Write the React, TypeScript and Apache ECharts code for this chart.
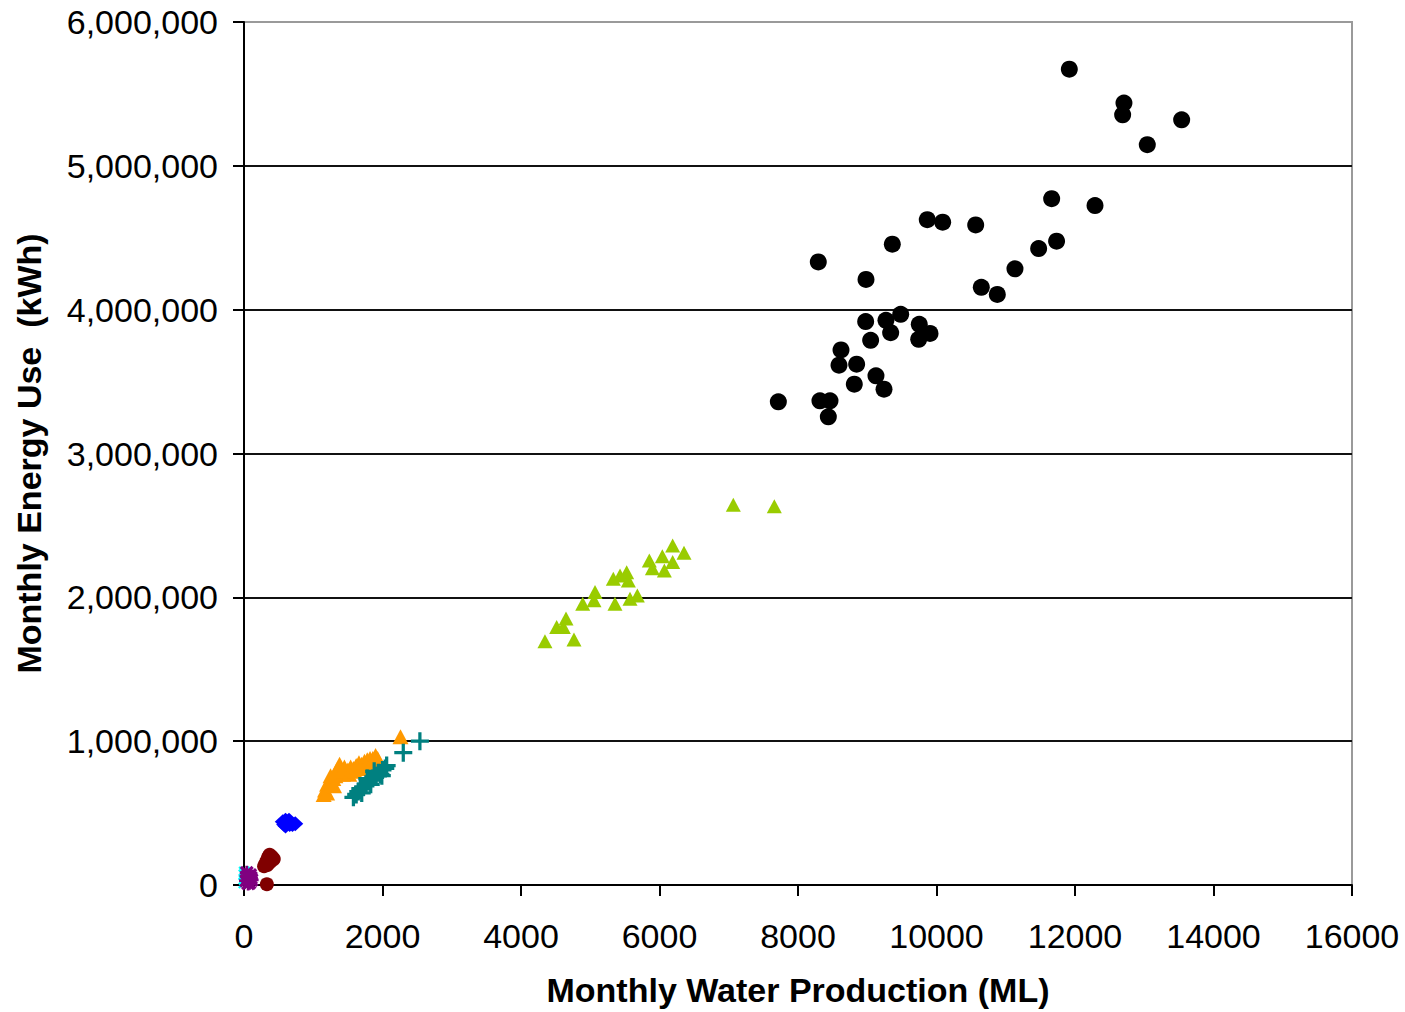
import React, { useEffect, useRef } from "react";
import * as echarts from "echarts";

// Large plants (black circles)
const blackX = [11918, 12707, 12688, 13540, 13044, 11663, 12289, 9867, 10089, 10566, 9362, 8293, 11734, 11475, 11133, 8982, 10647, 10878, 9483, 8977, 9270, 9751, 9338, 9906, 9743, 9049, 8621, 8847, 8592, 9126, 8813, 9242, 7716, 8317, 8462, 8438];
const blackY = [5672000, 5436000, 5355000, 5320000, 5147000, 4772000, 4724000, 4626000, 4608000, 4589000, 4455000, 4332000, 4476000, 4425000, 4284000, 4210000, 4155000, 4106000, 3968000, 3917000, 3926000, 3898000, 3840000, 3835000, 3794000, 3787000, 3720000, 3621000, 3614000, 3540000, 3482000, 3447000, 3359000, 3366000, 3366000, 3255000];

// Green triangles
const greenX = [7066, 7658, 6190, 6354, 6041, 5853, 6190, 5897, 6070, 5526, 5430, 5333, 5550, 5069, 5680, 5574, 4891, 5357, 5054, 4650, 4515, 4611, 4346, 4765];
const greenY = [2643000, 2634000, 2360000, 2310000, 2286000, 2256000, 2245000, 2203000, 2187000, 2175000, 2152000, 2129000, 2117000, 2037000, 2013000, 1991000, 1956000, 1956000, 1979000, 1852000, 1794000, 1794000, 1694000, 1706000];

// Orange triangles
const orangeX = [1150, 1170, 1200, 1230, 1260, 1290, 1320, 1350, 1380, 1400, 1430, 1460, 1500, 1540, 1580, 1620, 1660, 1700, 1740, 1780, 1820, 1860, 1900, 1930, 1200, 1250, 1300, 1340, 1450, 1520, 1600, 1680, 1760, 1850, 2260];
const orangeY = [630000, 660000, 700000, 720000, 700000, 740000, 760000, 780000, 840000, 800000, 770000, 790000, 800000, 820000, 810000, 830000, 850000, 840000, 860000, 870000, 880000, 880000, 900000, 880000, 640000, 760000, 690000, 800000, 820000, 770000, 790000, 810000, 830000, 850000, 1030000];

// Teal plus markers
const tealX = [1580, 1620, 1650, 1700, 1720, 1760, 1800, 1830, 1860, 1900, 1940, 1970, 2000, 2040, 2060, 1680, 1780, 1880, 1990, 2300, 2540];
const tealY = [610000, 630000, 650000, 640000, 680000, 700000, 720000, 700000, 740000, 760000, 780000, 770000, 800000, 810000, 830000, 670000, 740000, 790000, 760000, 920000, 1000000];

// Blue diamonds
const blueX = [560, 580, 600, 620, 640, 660, 700, 740, 600, 650];
const blueY = [440000, 420000, 450000, 430000, 440000, 420000, 420000, 425000, 410000, 450000];

// Maroon circles
const maroonX = [290, 310, 330, 350, 370, 390, 410, 430, 340, 380, 330];
const maroonY = [130000, 150000, 170000, 195000, 210000, 200000, 190000, 180000, 140000, 160000, 5000];

// Cyan x markers
const cyanX = [0, 0, 5, 0];
const cyanY = [70000, 40000, 90000, 15000];

// Purple stars
const purpleX = [30, 50, 70, 90, 110, 60, 40, 100, 80];
const purpleY = [30000, 60000, 40000, 70000, 35000, 10000, 85000, 50000, 15000];

const xTicks = { min: 0, max: 16000, interval: 2000 };
const yTicks = { min: 0, max: 6000000, interval: 1000000 };

const zip = (xs: number[], ys: number[]) => xs.map((x, i) => [x, ys[i]]);

const PLUS = "path://M4.1,0 H5.9 V10 H4.1 Z M0,4.1 H10 V5.9 H0 Z";
const XMARK = "path://M0,1.4 L1.4,0 L10,8.6 L8.6,10 Z M8.6,0 L10,1.4 L1.4,10 L0,8.6 Z";
const STAR = "path://M0,1.6 L1.6,0 L10,8.4 L8.4,10 Z M8.4,0 L10,1.6 L1.6,10 L0,8.4 Z M4,0 H6 V10 H4 Z M0,4 H10 V6 H0 Z";

export default function App() {
  const ref = useRef<HTMLDivElement>(null);
  useEffect(() => {
    if (!ref.current) return;
    const chart = echarts.init(ref.current, null, { renderer: "svg" });
    const font = "'Liberation Sans', Arial, Helvetica, sans-serif";
    const mk = (name: string, xs: number[], ys: number[], symbol: string, size: number | number[], color: string) => ({
      name,
      type: "scatter",
      data: zip(xs, ys),
      symbol,
      symbolSize: size,
      itemStyle: { color, opacity: 1 },
      emphasis: { disabled: true },
    });
    chart.setOption({
      animation: false,
      backgroundColor: "#fff",
      grid: {
        left: 244,
        right: 53,
        top: 22,
        bottom: 122,
        show: true,
        borderColor: "#9a9a9a",
        borderWidth: 2,
      },
      xAxis: {
        type: "value",
        min: xTicks.min,
        max: xTicks.max,
        interval: xTicks.interval,
        name: "Monthly Water Production (ML)",
        nameLocation: "middle",
        nameGap: 88,
        nameTextStyle: { fontFamily: font, fontSize: 34, fontWeight: "bold", color: "#000" },
        axisLine: { show: true, lineStyle: { color: "#000", width: 2 } },
        axisTick: { show: true, length: 11, lineStyle: { color: "#000", width: 2 } },
        axisLabel: { fontFamily: font, fontSize: 34, color: "#000", margin: 34, formatter: (v: number) => String(v) },
        splitLine: { show: false },
      },
      yAxis: {
        type: "value",
        min: yTicks.min,
        max: yTicks.max,
        interval: yTicks.interval,
        name: "Monthly Energy Use  (kWh)",
        nameLocation: "middle",
        nameGap: 198,
        nameRotate: 90,
        nameTextStyle: { fontFamily: font, fontSize: 34, fontWeight: "bold", color: "#000" },
        axisLine: { show: true, lineStyle: { color: "#000", width: 2 } },
        axisTick: { show: true, length: 11, lineStyle: { color: "#000", width: 2 } },
        axisLabel: {
          fontFamily: font,
          fontSize: 34,
          color: "#000",
          margin: 26,
          formatter: (v: number) => v.toLocaleString("en-US"),
        },
        splitLine: {
          show: true,
          lineStyle: {
            color: ["#111", "#111", "#111", "#111", "#111", "#111", "#9a9a9a"],
            width: 2,
          },
        },
      },
      series: [
        mk("Cyan", cyanX, cyanY, XMARK, 12, "#00FFFF"),
        mk("Purple", purpleX, purpleY, STAR, 14, "#800080"),
        mk("Maroon", maroonX, maroonY, "circle", 14, "#800000"),
        mk("Blue", blueX, blueY, "diamond", [16, 15], "#0000FF"),
        mk("Orange", orangeX, orangeY, "triangle", [16, 15], "#FF9900"),
        mk("Teal", tealX, tealY, PLUS, 18, "#008080"),
        mk("Green", greenX, greenY, "triangle", [15, 14], "#99CC00"),
        mk("Black", blackX, blackY, "circle", 17, "#000000"),
      ],
    });
    return () => chart.dispose();
  }, []);
  return <div ref={ref} style={{ width: 1405, height: 1012, position: "absolute", left: 0, top: 0 }} />;
}
